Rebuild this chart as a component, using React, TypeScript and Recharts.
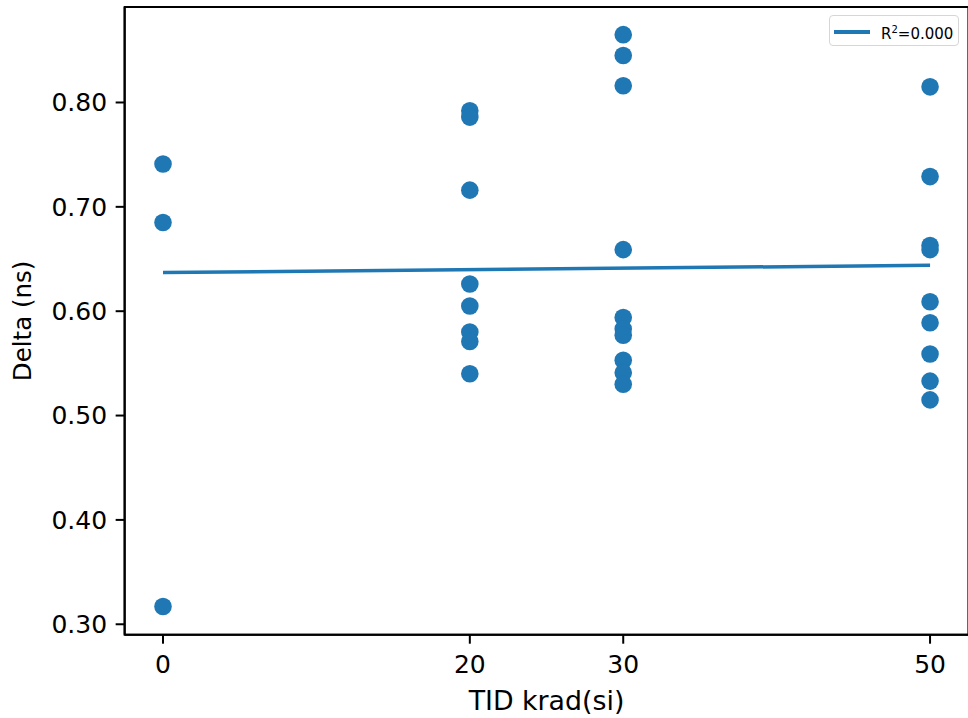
import React from 'react';
import { ScatterChart, Scatter, XAxis, YAxis, ReferenceArea, Legend, Label } from 'recharts';

// TID levels on the x axis (krad(si))
const tidTicks = [0, 20, 30, 50];
const deltaTicks = [0.3, 0.4, 0.5, 0.6, 0.7, 0.8];

// measured delta (ns) at each TID level
const delta0 = [0.741, 0.685, 0.317];
const delta20 = [0.792, 0.786, 0.716, 0.626, 0.605, 0.58, 0.571, 0.54];
const delta30 = [0.865, 0.845, 0.816, 0.659, 0.594, 0.583, 0.577, 0.553, 0.541, 0.53];
const delta50 = [0.815, 0.729, 0.663, 0.659, 0.609, 0.589, 0.559, 0.533, 0.515];

// linear fit endpoints
const fitX = [0, 50];
const fitY = [0.637, 0.644];

const BLUE = '#1f77b4';
const FONT = '"DejaVu Sans", sans-serif';

const points = [
  ...delta0.map(y => ({ x: 0, y })),
  ...delta20.map(y => ({ x: 20, y })),
  ...delta30.map(y => ({ x: 30, y })),
  ...delta50.map(y => ({ x: 50, y })),
];
const fitLine = fitX.map((x, i) => ({ x, y: fitY[i] }));

const Dot = (props: any) => <circle cx={props.cx} cy={props.cy} r={8.8} fill={BLUE} />;

const LegendBox = () => (
  <div
    style={{
      width: 128,
      height: 29,
      border: '1.5px solid #d6d6d6',
      borderRadius: 4,
      background: '#fff',
      position: 'relative',
      fontFamily: FONT,
      fontSize: 15,
      color: '#000',
    }}
  >
    <div style={{ position: 'absolute', left: 4, top: 14, width: 36, height: 3.5, background: BLUE }} />
    <div style={{ position: 'absolute', left: 51, top: 5, lineHeight: '18px', whiteSpace: 'nowrap' }}>
      R<sup style={{ fontSize: 10, verticalAlign: 6 }}>2</sup>=0.000
    </div>
  </div>
);

const YTitle = ({ viewBox }: any) => {
  const cx = viewBox.x + 23;
  const cy = viewBox.y + viewBox.height / 2;
  return (
    <text x={cx} y={cy} transform={`rotate(-90 ${cx} ${cy})`} textAnchor="middle" dominantBaseline="central"
      fontFamily={FONT} fontSize={24.5} fill="#000">
      Delta (ns)
    </text>
  );
};

const XTitle = ({ viewBox }: any) => (
  <text x={viewBox.x + viewBox.width / 2} y={710} textAnchor="middle" fontFamily={FONT} fontSize={26.8} fill="#000">
    TID krad(si)
  </text>
);

const App: React.FC = () => {
  const tickStyle = { fill: '#000', fontSize: 25, fontFamily: FONT };
  const lineStyle = { stroke: '#000', strokeWidth: 2 };

  return (
    <div style={{ position: 'absolute', left: 0, top: 0, width: 968, height: 718, overflow: 'hidden', background: '#fff' }}>
      <ScatterChart width={975} height={718} margin={{ top: 7, right: 6.6, left: 0, bottom: 0 }}>
        <XAxis
          type="number"
          dataKey="x"
          domain={[-2.5, 52.5]}
          ticks={tidTicks}
          allowDataOverflow
          height={83.3}
          tickSize={9}
          tickMargin={12}
          tick={tickStyle}
          axisLine={lineStyle}
          tickLine={lineStyle}
        >
          <Label content={<XTitle />} />
        </XAxis>
        <YAxis
          type="number"
          dataKey="y"
          domain={[0.29, 0.8915]}
          ticks={deltaTicks}
          allowDataOverflow
          width={124.65}
          tickSize={9}
          tickMargin={8.5}
          tick={tickStyle}
          tickFormatter={(v: number) => v.toFixed(2)}
          axisLine={lineStyle}
          tickLine={lineStyle}
        >
          <Label content={<YTitle />} />
        </YAxis>
        <ReferenceArea x1={-2.5} x2={52.5} y1={0.29} y2={0.8915} fill="none" stroke="#000" strokeWidth={2} />
        <Scatter
          data={fitLine}
          line={{ stroke: BLUE, strokeWidth: 3.5 }}
          shape={() => <g />}
          isAnimationActive={false}
          legendType="none"
        />
        <Scatter data={points} shape={<Dot />} isAnimationActive={false} />
        <Legend
          layout="horizontal"
          verticalAlign="middle"
          align="center"
          wrapperStyle={{ left: 829, top: 15, width: 'auto' }}
          content={() => <LegendBox />}
        />
      </ScatterChart>
    </div>
  );
};

export default App;
